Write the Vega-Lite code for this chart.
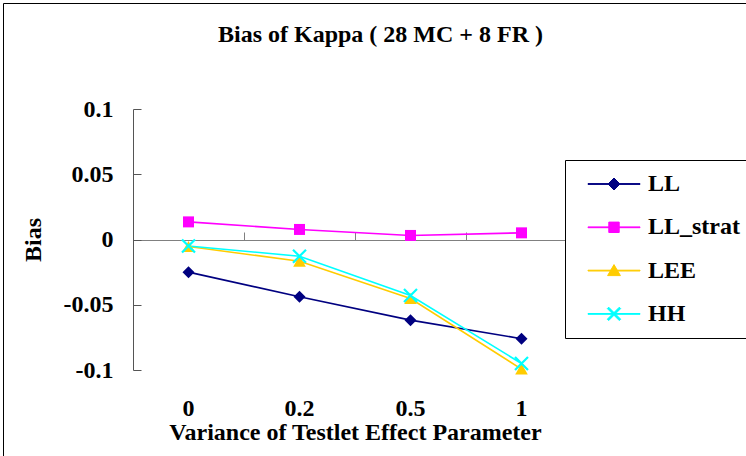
{
  "$schema": "https://vega.github.io/schema/vega-lite/v6.json",
  "width": 743,
  "height": 453,
  "autosize": {"type": "none"},
  "padding": {"left": 3, "top": 3, "right": 0, "bottom": 0},
  "background": "#ffffff",
  "title": {
    "text": "Bias of Kappa ( 28 MC + 8 FR )",
    "anchor": "middle",
    "frame": "group",
    "baseline": "alphabetic",
    "offset": -63,
    "dx": 6
  },
  "data": {
    "values": [
      {"variance": "0", "method": "LL", "bias": -0.025},
      {"variance": "0.2", "method": "LL", "bias": -0.0439},
      {"variance": "0.5", "method": "LL", "bias": -0.0618},
      {"variance": "1", "method": "LL", "bias": -0.076},
      {"variance": "0", "method": "LL_strat", "bias": 0.0135},
      {"variance": "0.2", "method": "LL_strat", "bias": 0.0077},
      {"variance": "0.5", "method": "LL_strat", "bias": 0.0031},
      {"variance": "1", "method": "LL_strat", "bias": 0.0051},
      {"variance": "0", "method": "LEE", "bias": -0.0054},
      {"variance": "0.2", "method": "LEE", "bias": -0.0166},
      {"variance": "0.5", "method": "LEE", "bias": -0.0452},
      {"variance": "1", "method": "LEE", "bias": -0.0993},
      {"variance": "0", "method": "HH", "bias": -0.005},
      {"variance": "0.2", "method": "HH", "bias": -0.0128},
      {"variance": "0.5", "method": "HH", "bias": -0.0429},
      {"variance": "1", "method": "HH", "bias": -0.095}
    ]
  },
  "encoding": {
    "x": {
      "field": "variance",
      "type": "ordinal",
      "sort": ["0", "0.2", "0.5", "1"],
      "scale": {"type": "band", "range": [130, 574], "paddingInner": 0, "paddingOuter": 0},
      "axis": null
    },
    "y": {
      "field": "bias",
      "type": "quantitative",
      "scale": {"domain": [-0.1, 0.1], "range": [367, 106], "nice": false, "zero": false},
      "axis": {
        "orient": "left",
        "offset": -130,
        "title": "Bias",
        "values": [-0.1, -0.05, 0, 0.05, 0.1],
        "labelExpr": "toString(datum.value)",
        "grid": false,
        "domainColor": "#555555",
        "tickColor": "#555555",
        "tickSize": -8,
        "labelPadding": 28,
        "titlePadding": 18
      }
    },
    "color": {
      "field": "method",
      "type": "nominal",
      "scale": {
        "domain": ["LL", "LL_strat", "LEE", "HH"],
        "range": ["#000080", "#ff00ff", "#ffcc00", "#00ffff"]
      },
      "legend": {
        "title": null,
        "orient": "none",
        "legendX": 562,
        "legendY": 157,
        "symbolSize": 400,
        "symbolOffset": 25,
        "labelOffset": 22,
        "rowPadding": 19.3,
        "padding": 12,
        "strokeColor": "#000000",
        "fillColor": "#ffffff",
        "symbolOpacity": 1,
        "encode": {
          "symbols": {
            "update": {
              "shape": {"signal": "datum.value === 'LL' ? 'M-2.6,-0.04H2.6V0.04H-2.6ZM-0.6,0L0,-0.6L0.6,0L0,0.6Z' : datum.value === 'LL_strat' ? 'M-2.6,-0.04H2.6V0.04H-2.6ZM-0.52,-0.52H0.52V0.52H-0.52Z' : datum.value === 'LEE' ? 'M-2.6,-0.04H2.6V0.04H-2.6ZM0,-0.6L0.64,0.5H-0.64Z' : 'M-2.6,-0.04H2.6V0.04H-2.6ZM-0.53,-0.67L0.67,0.53L0.53,0.67L-0.67,-0.53ZM-0.67,0.53L0.53,-0.67L0.67,-0.53L-0.53,0.67Z'"},
              "fill": {"signal": "scale('color', datum.value)"},
              "stroke": {"signal": "scale('color', datum.value)"},
              "strokeWidth": {"value": 1}
            }
          }
        }
      }
    }
  },
  "layer": [
    {
      "mark": {"type": "line", "strokeWidth": 1.6},
      "encoding": {
        "x": {
          "field": "variance",
          "type": "ordinal",
          "sort": ["0", "0.2", "0.5", "1"],
          "axis": {
            "orient": "bottom",
            "offset": -60,
            "title": "Variance of Testlet Effect Parameter",
            "labelAngle": 0,
            "domain": false,
            "ticks": false,
            "labelPadding": 0,
            "titlePadding": 0
          }
        }
      }
    },
    {
      "transform": [{"filter": "datum.method === 'LL'"}],
      "mark": {"type": "point", "filled": true, "opacity": 1, "shape": "diamond", "size": 144},
      "encoding": {
        "x": {
          "field": "variance",
          "type": "ordinal",
          "sort": ["0", "0.2", "0.5", "1"],
          "axis": {
            "orient": "top",
            "offset": -237,
            "title": null,
            "labels": false,
            "domainColor": "#808080",
            "tickColor": "#808080",
            "tickSize": 8,
            "bandPosition": 0
          }
        }
      }
    },
    {
      "transform": [{"filter": "datum.method === 'LL_strat'"}],
      "mark": {"type": "point", "filled": true, "opacity": 1, "shape": "square", "size": 121}
    },
    {
      "transform": [{"filter": "datum.method === 'LEE'"}],
      "mark": {"type": "point", "filled": true, "opacity": 1, "shape": "triangle-up", "size": 160}
    },
    {
      "transform": [{"filter": "datum.method === 'HH'"}],
      "mark": {
        "type": "point",
        "filled": true,
        "opacity": 1,
        "shape": "M-0.88,-1.12L1.12,0.88L0.88,1.12L-1.12,-0.88ZM-1.12,0.88L0.88,-1.12L1.12,-0.88L-0.88,1.12Z",
        "size": 169
      }
    }
  ],
  "resolve": {"axis": {"x": "independent"}},
  "config": {
    "view": {"stroke": "#000000", "strokeWidth": 1},
    "axis": {
      "labelFont": "Liberation Serif",
      "labelFontSize": 24,
      "labelFontWeight": "bold",
      "labelColor": "#000000",
      "titleFont": "Liberation Serif",
      "titleFontSize": 24,
      "titleFontWeight": "bold",
      "titleColor": "#000000"
    },
    "legend": {
      "labelFont": "Liberation Serif",
      "labelFontSize": 24,
      "labelFontWeight": "bold",
      "labelColor": "#000000"
    },
    "title": {
      "font": "Liberation Serif",
      "fontSize": 24,
      "fontWeight": "bold",
      "color": "#000000"
    }
  }
}
